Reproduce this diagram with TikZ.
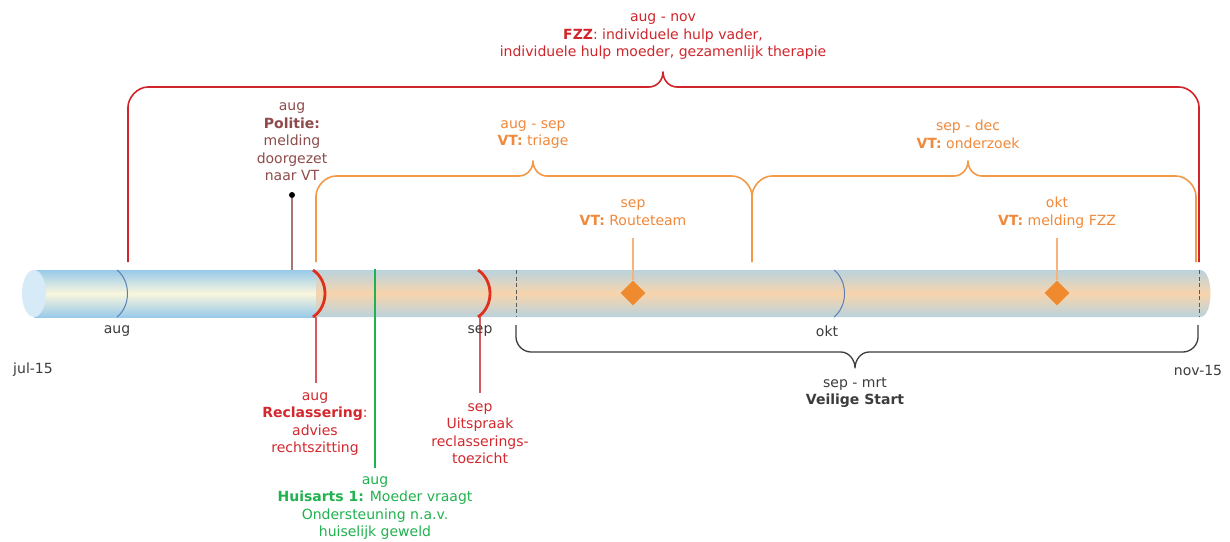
\documentclass[tikz,border=0pt]{standalone}
\usepackage{fontspec}
\setmainfont{DejaVu Sans}
\usetikzlibrary{shapes.geometric}
\definecolor{fzz}{HTML}{D0262B}
\definecolor{vt}{HTML}{F39A48}
\definecolor{vttext}{HTML}{F0893A}
\definecolor{vtline}{HTML}{F8B27A}
\definecolor{diam}{HTML}{F08A2E}
\definecolor{pol}{HTML}{8E4B4B}
\definecolor{polline}{HTML}{A87575}
\definecolor{recl}{HTML}{D3282E}
\definecolor{reclline}{HTML}{D45A5E}
\definecolor{grn}{HTML}{21B24F}
\definecolor{txt}{HTML}{3C3C3C}
\definecolor{dashgrey}{HTML}{5A5A5A}
\definecolor{tubeblue}{HTML}{98CAEA}
\definecolor{tubeyel}{HTML}{F9F6DD}
\definecolor{tubegrey}{HTML}{BAD3DE}
\definecolor{tubepeach}{HTML}{F8D4AC}
\definecolor{capblue}{HTML}{D6EAF7}
\definecolor{arcblue}{HTML}{5B80B5}
\definecolor{arcred}{HTML}{E0301C}
\begin{document}
\begin{tikzpicture}[x=1pt,y=-1pt,
  lbl/.style={align=center,inner sep=0pt,font=\fontsize{14}{17.5}\selectfont},
  brace/.style={line width=1.6pt,line join=round},
  tick/.style={line width=1.5pt},
  diamondmark/.style={diamond,fill=diam,inner sep=0pt,minimum size=25pt},
  redarc/.style={arcred,line width=2.8pt},
  montharc/.style={arcblue,line width=1pt},
  dashline/.style={dashgrey,line width=1pt,dash pattern=on 4pt off 2.5pt}]
\useasboundingbox[fill=white] (0,0) rectangle (1230,541);

% tube
\shade[top color=tubeblue,bottom color=tubeblue,middle color=tubeyel] (34,270) rectangle (316,317);
\shade[top color=tubegrey,bottom color=tubegrey,middle color=tubepeach]
  (316,270) -- (1200,270) .. controls (1214,270) and (1214,317) .. (1200,317) -- (316,317) -- cycle;
\fill[capblue] (34,293.5) ellipse [x radius=12,y radius=23.5];

% month arcs
\draw[montharc] (117,270) .. controls (131,281) and (131,306) .. (117,317);
\draw[montharc] (834,270) .. controls (848,281) and (848,306) .. (834,317);
\draw[redarc] (313,270) .. controls (329,281) and (329,306) .. (313,317);
\draw[redarc] (478,270) .. controls (494,281) and (494,306) .. (478,317);
\draw[dashline] (516,270) -- (516,317);
\draw[dashline] (1199,270) -- (1199,317);

% coordinates
\coordinate (fzzL) at (128,262);
\coordinate (fzzR) at (1199,262);
\coordinate (triL) at (316,262);
\coordinate (triR) at (752,262);
\coordinate (ondR) at (1196,262);
\coordinate (vsL) at (516,325);
\coordinate (vsR) at (1198,325);
\coordinate (polEnd) at (292,270);
\coordinate (reclTop) at (316,317);
\coordinate (reclBot) at (316,383);
\coordinate (uitTop) at (480,317);
\coordinate (uitBot) at (480,393);
\coordinate (haTop) at (375,269);
\coordinate (haBot) at (375,468);
\coordinate (d1Top) at (633,238);
\coordinate (d2Top) at (1057,238);

% braces
\draw[brace,fzz] (fzzL) -- (128,107) .. controls (128,98) and (137,87) .. (148,87) -- (649,87)
  .. controls (657,87) and (663,80) .. (663,72)
  .. controls (663,80) and (669,87) .. (677,87) -- (1179,87)
  .. controls (1190,87) and (1199,98) .. (1199,107) -- (fzzR);
\draw[brace,vt] (triL) -- (316,196) .. controls (316,187) and (325,176) .. (336,176) -- (519,176)
  .. controls (527,176) and (533,169) .. (533,161)
  .. controls (533,169) and (539,176) .. (547,176) -- (732,176)
  .. controls (743,176) and (752,187) .. (752,196) -- (triR);
\draw[brace,vt] (triR) -- (752,196) .. controls (752,187) and (761,176) .. (772,176) -- (954,176)
  .. controls (962,176) and (968,169) .. (968,161)
  .. controls (968,169) and (974,176) .. (982,176) -- (1176,176)
  .. controls (1187,176) and (1196,187) .. (1196,196) -- (ondR);
\draw[brace,txt,line width=1.3pt] (vsL) -- (516,337) .. controls (516,345) and (523,352) .. (531,352) -- (841,352)
  .. controls (849,352) and (855,360) .. (855,368)
  .. controls (855,360) and (861,352) .. (869,352) -- (1183,352)
  .. controls (1191,352) and (1198,345) .. (1198,337) -- (vsR);

% event lines
\node[circle,fill=black,inner sep=0pt,minimum size=6pt] (polDot) at (292,195) {};
\draw[polline,line width=1.5pt] (polDot) -- (polEnd);
\draw[tick,reclline] (reclTop) -- (reclBot);
\draw[tick,reclline] (uitTop) -- (uitBot);
\draw[tick,grn] (haTop) -- (haBot);
\node[diamondmark] (d1) at (633,293) {};
\node[diamondmark] (d2) at (1057,293) {};
\draw[vtline,line width=2pt] (d1) -- (d1Top);
\draw[vtline,line width=2pt] (d2) -- (d2Top);

% labels
\node[lbl,fzz] (fzzTxt) at (663,37) {aug - nov\\\textbf{FZZ}: individuele hulp vader,\\individuele hulp moeder, gezamenlijk therapie};
\node[lbl,pol] (polTxt) at (292,142) {aug\\\textbf{Politie:}\\melding\\doorgezet\\naar VT};
\node[lbl,vttext] (triTxt) at (533,134.5) {aug - sep\\\textbf{VT:} triage};
\node[lbl,vttext] (ondTxt) at (968,134.5) {sep - dec\\\textbf{VT:} onderzoek};
\node[lbl,vttext] (rtTxt) at (633,212.5) {sep\\\textbf{VT:} Routeteam};
\node[lbl,vttext] (mfTxt) at (1057,212.5) {okt\\\textbf{VT:} melding FZZ};
\node[lbl,recl] (reclTxt) at (315,424) {aug\\\textbf{Reclassering}:\\advies\\rechtszitting};
\node[lbl,recl] (uitTxt) at (480,433.5) {sep\\Uitspraak\\reclasserings-\\toezicht};
\node[lbl,grn] (haTxt) at (375,508) {aug\\\textbf{Huisarts 1:} Moeder vraagt\\Ondersteuning n.a.v.\\huiselijk geweld};
\node[lbl,txt] (vsTxt) at (855,392.5) {sep - mrt\\\textbf{Veilige Start}};
\node[lbl,txt] (augTxt) at (117,331) {aug};
\node[lbl,txt] (sepTxt) at (480,331) {sep};
\node[lbl,txt] (oktTxt) at (827,331) {okt};
\node[lbl,txt] (julTxt) at (33,370) {jul-15};
\node[lbl,txt] (novTxt) at (1198,370) {nov-15};
\end{tikzpicture}
\end{document}
